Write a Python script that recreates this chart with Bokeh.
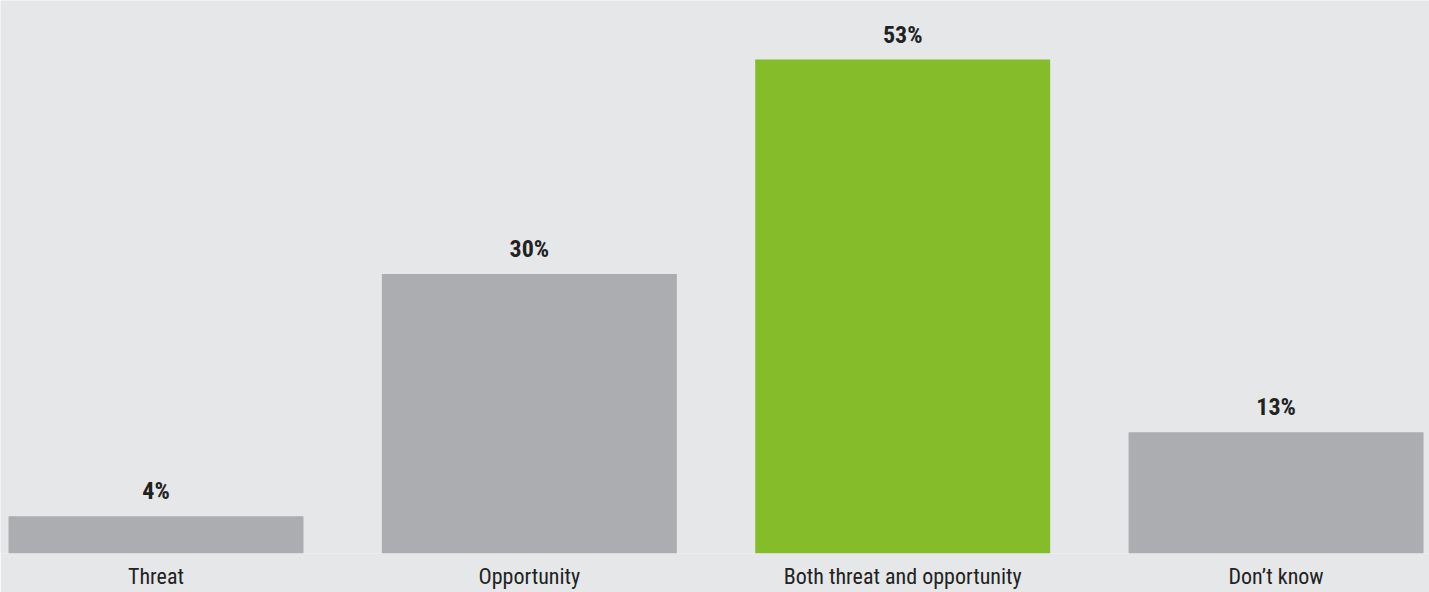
from bokeh.plotting import figure
from bokeh.models import ColumnDataSource, Range1d, FixedTicker
from bokeh.core.properties import value
from bokeh.embed import file_html
from bokeh.resources import INLINE

categories = ["Threat", "Opportunity", "Both threat and opportunity", "Don\u2019t know"]
values = [4, 30, 53, 13]
colors = ["#acadb0", "#acadb0", "#84bc2a", "#acadb0"]

xs = list(range(len(categories)))
labels = [f"{v}%" for v in values]
src = ColumnDataSource(dict(x=xs, top=values, color=colors, label=labels))

FONT = "Roboto Condensed, sans-serif"

p = figure(width=1429, height=592, output_backend="svg", toolbar_location=None,
           x_range=Range1d(-0.4165, 3.411), y_range=Range1d(0, 59.33),
           min_border_left=0, min_border_right=0, min_border_top=0, min_border_bottom=39,
           background_fill_color="#e6e7e9", border_fill_color="#e6e7e9")
p.outline_line_color = None
p.grid.visible = False
p.yaxis.visible = False

p.vbar(x="x", top="top", bottom=0, width=0.79, color="color", source=src, line_color=None)
p.text(x="x", y="top", text="label", source=src, text_align="center", text_baseline="alphabetic",
       y_offset=-25, text_font=value(FONT), text_font_style="bold", text_font_size="24px",
       text_color="#222222")

ax = p.xaxis[0]
ax.ticker = FixedTicker(ticks=xs)
ax.major_label_overrides = {i: c for i, c in enumerate(categories)}
ax.axis_line_color = None
ax.major_tick_line_color = None
ax.minor_tick_line_color = None
ax.major_tick_out = 0
ax.major_tick_in = 0
ax.major_label_standoff = 10
ax.major_label_text_font = FONT
ax.major_label_text_font_size = "22px"
ax.major_label_text_color = "#222222"

open("out.html", "w").write(file_html(p, INLINE))
